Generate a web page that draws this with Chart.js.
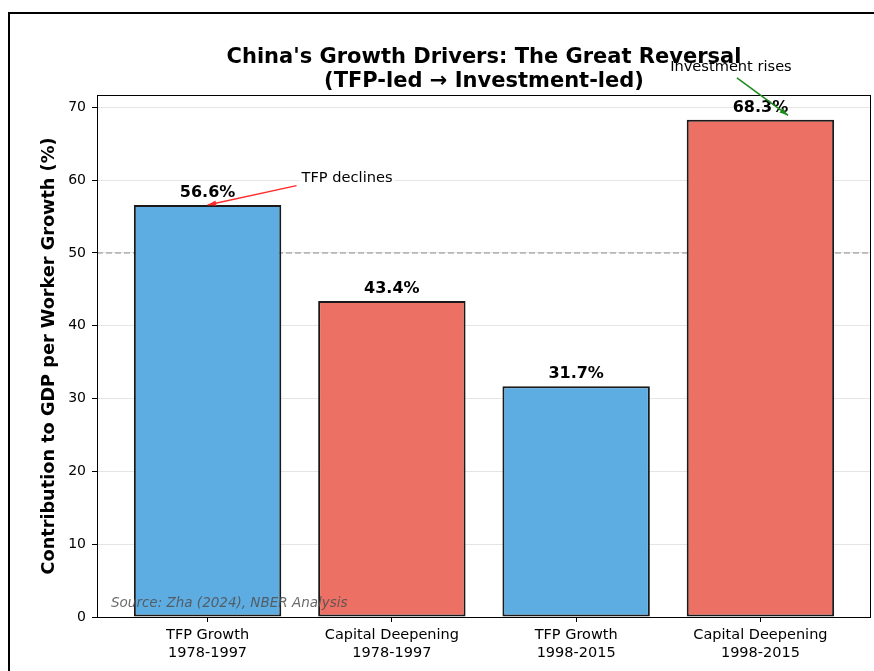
<!DOCTYPE html>
<html>
<head>
<meta charset="utf-8">
<script src="https://cdn.jsdelivr.net/npm/chart.js@4.4.1/dist/chart.umd.min.js"></script>
<style>
  body { margin: 0; background: #fff; }
  #frame { position: absolute; left: 8px; top: 12px; width: 900px; height: 700px; border-left: 2px solid #000; border-top: 2px solid #000; }
  #wrap { position: absolute; left: 0; top: 0; width: 874px; height: 671px; }
</style>
</head>
<body>
<div id="frame"></div>
<div id="wrap"><canvas id="growthChart" width="874" height="671"></canvas></div>
<script>
var categories = [['TFP Growth', '1978-1997'], ['Capital Deepening', '1978-1997'], ['TFP Growth', '1998-2015'], ['Capital Deepening', '1998-2015']];
var shares = [56.6, 43.4, 31.7, 68.3];
var barColors = ['#5DADE2', '#EC7063', '#5DADE2', '#EC7063'];
var yTicks = [0, 10, 20, 30, 40, 50, 60, 70];
var refLine = 50;

var FONT = "'DejaVu Sans', sans-serif";

function arrow(ctx, x1, y1, x2, y2, color) {
  ctx.save();
  ctx.strokeStyle = color;
  ctx.fillStyle = color;
  ctx.lineWidth = 1.5;
  ctx.beginPath();
  ctx.moveTo(x1, y1);
  ctx.lineTo(x2, y2);
  ctx.stroke();
  var a = Math.atan2(y2 - y1, x2 - x1);
  ctx.beginPath();
  ctx.moveTo(x2, y2);
  ctx.lineTo(x2 - 9 * Math.cos(a - 0.3), y2 - 9 * Math.sin(a - 0.3));
  ctx.lineTo(x2 - 9 * Math.cos(a + 0.3), y2 - 9 * Math.sin(a + 0.3));
  ctx.closePath();
  ctx.fill();
  ctx.restore();
}

var extras = {
  id: 'extras',
  beforeDatasetsDraw: function(chart) {
    var ctx = chart.ctx, y = chart.scales.y, area = chart.chartArea;
    // dashed 50% line
    ctx.save();
    ctx.strokeStyle = 'rgba(128,128,128,0.6)';
    ctx.lineWidth = 1.5;
    ctx.setLineDash([6, 3]);
    ctx.beginPath();
    ctx.moveTo(area.left, y.getPixelForValue(refLine));
    ctx.lineTo(area.right, y.getPixelForValue(refLine));
    ctx.stroke();
    ctx.restore();
  },
  afterDraw: function(chart) {
    var ctx = chart.ctx, x = chart.scales.x, y = chart.scales.y, area = chart.chartArea;
    ctx.save();
    // plot box
    ctx.strokeStyle = '#000';
    ctx.lineWidth = 1;
    ctx.strokeRect(area.left + 0.5, area.top + 0.5, area.right - area.left - 1, area.bottom - area.top);

    // title
    ctx.fillStyle = '#000';
    ctx.textAlign = 'center';
    ctx.textBaseline = 'alphabetic';
    ctx.font = 'bold 21px ' + FONT;
    var cx = (area.left + area.right) / 2;
    ctx.fillText("China's Growth Drivers: The Great Reversal", cx, 63);
    ctx.fillText('(TFP-led \u2192 Investment-led)', cx, 87);

    // value labels
    ctx.font = 'bold 16px ' + FONT;
    ctx.textBaseline = 'bottom';
    shares.forEach(function(v, i) {
      ctx.fillText(v.toFixed(1) + '%', x.getPixelForValue(i), y.getPixelForValue(v + 0.55));
    });

    // source note
    ctx.font = 'italic 13.5px ' + FONT;
    ctx.fillStyle = 'rgba(80,80,80,0.85)';
    ctx.textAlign = 'left';
    ctx.textBaseline = 'alphabetic';
    ctx.fillText('Source: Zha (2024), NBER Analysis', area.left + 14, area.bottom - 10);

    // annotations
    ctx.font = '14.6px ' + FONT;
    var tx = x.getPixelForValue(0.51), ty = y.getPixelForValue(59.8);
    var w = ctx.measureText('TFP declines').width;
    ctx.fillStyle = '#fff';
    ctx.fillRect(tx - 2, ty - 15, w + 4, 19);
    ctx.fillStyle = '#000';
    ctx.fillText('TFP declines', tx, ty);
    arrow(ctx, tx - 5, ty + 4, x.getPixelForValue(0), y.getPixelForValue(shares[0]), '#ff2a2a');

    ctx.textAlign = 'center';
    var ix = x.getPixelForValue(2.84), iy = y.getPixelForValue(75);
    ctx.fillText('Investment rises', ix, iy);
    arrow(ctx, ix + 6, iy + 7, x.getPixelForValue(3.15), y.getPixelForValue(68.9), '#1a8a1a');
    ctx.restore();
  }
};

var ctx = document.getElementById('growthChart').getContext('2d');
var chart = new Chart(ctx, {
  type: 'bar',
  data: {
    datasets: [{
      data: shares.map(function(v, i) { return { x: i, y: v }; }),
      backgroundColor: barColors,
      borderColor: '#1a1a1a',
      borderWidth: 2,
      borderSkipped: false,
      barPercentage: 1,
      categoryPercentage: 0.8
    }]
  },
  options: {
    responsive: false,
    animation: false,
    layout: { padding: { left: 39, right: 3, top: 95, bottom: 0 } },
    plugins: { legend: { display: false }, tooltip: { enabled: false } },
    scales: {
      x: {
        type: 'linear',
        offset: false,
        min: -0.6,
        max: 3.6,
        afterBuildTicks: function(scale) {
          scale.ticks = categories.map(function(c, i) { return { value: i }; });
        },
        afterFit: function(scale) { scale.height = 54; },
        ticks: {
          color: '#000',
          font: { family: FONT, size: 14.5 },
          padding: 5,
          maxRotation: 0,
          callback: function(v) { return categories[v]; }
        },
        grid: { offset: false, drawOnChartArea: false, tickColor: '#000', tickLength: 5 },
        border: { display: false }
      },
      y: {
        min: 0,
        max: 71.7,
        afterBuildTicks: function(scale) {
          scale.ticks = yTicks.map(function(t) { return { value: t }; });
        },
        afterFit: function(scale) { scale.width = 58; },
        ticks: { color: '#000', font: { family: FONT, size: 14 }, padding: 6 },
        grid: { color: 'rgba(0,0,0,0.1)', tickColor: '#000', tickLength: 5 },
        border: { display: false },
        title: {
          display: true,
          text: 'Contribution to GDP per Worker Growth (%)',
          color: '#000',
          font: { family: FONT, size: 17.7, weight: 'bold' },
          padding: { top: 0, bottom: 4 }
        }
      }
    }
  },
  plugins: [extras]
});
</script>
</body>
</html>
